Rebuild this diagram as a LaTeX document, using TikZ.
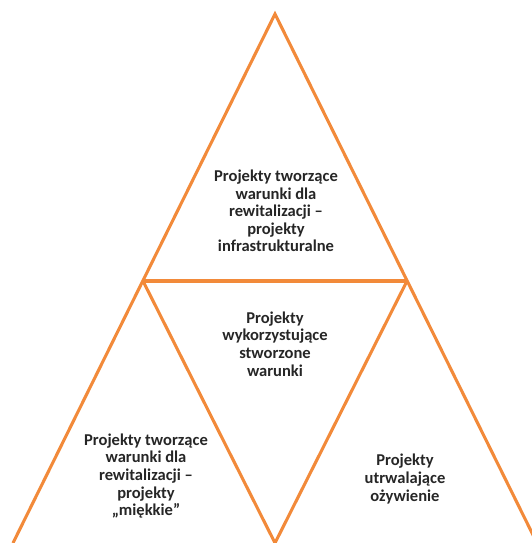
\documentclass[tikz,border=0pt]{standalone}
\usepackage{fontspec}
\setmainfont{Carlito}
\definecolor{tri}{HTML}{F28A3A}
\begin{document}
\begin{tikzpicture}[x=0.75pt,y=-0.75pt,
  edge/.style={draw=tri,line width=2.3pt,line join=miter},
  lbl/.style={align=center,font=\fontsize{12.4}{13.2}\selectfont\bfseries,text=black!85,inner sep=0pt}]
\useasboundingbox (0,0) rectangle (532,543);
\coordinate (A) at (275,14);
\coordinate (L) at (143,281);
\coordinate (R) at (407,281);
\coordinate (BL) at (13,543);
\coordinate (BM) at (275,543);
\coordinate (BR) at (537,543);
\draw[edge] (BL) -- (A) -- (BR);
\draw[edge] (L) -- (R);
\draw[edge] (L) -- (BM) -- (R);
\node[lbl] (t1) at (276,211) {Projekty tworzące\\warunki dla\\rewitalizacji –\\projekty\\infrastrukturalne};
\node[lbl] (t2) at (275,344) {Projekty\\wykorzystujące\\stworzone\\warunki};
\node[lbl] (t3) at (146,476) {Projekty tworzące\\warunki dla\\rewitalizacji –\\projekty\\„miękkie”};
\node[lbl] (t4) at (405,479) {Projekty\\utrwalające\\ożywienie};
\end{tikzpicture}
\end{document}
